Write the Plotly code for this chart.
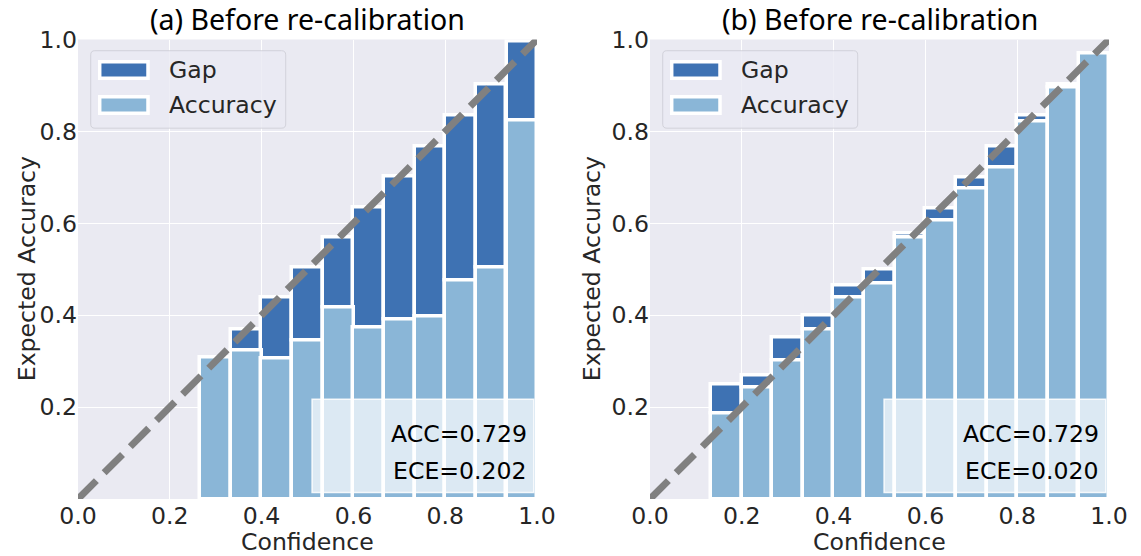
import plotly.graph_objects as go

# ---- data -------------------------------------------------------------
# Reliability diagram, 15 equal-width confidence bins; only non-empty bins listed.
bin_width = 1 / 15

bins_a = [0.300, 0.367, 0.433, 0.500, 0.567, 0.633, 0.700, 0.767, 0.833, 0.900, 0.967]
accuracy_a = [0.309, 0.324, 0.305, 0.345, 0.416, 0.373, 0.391, 0.397, 0.475, 0.504, 0.823]
gap_a = [0.000, 0.045, 0.134, 0.159, 0.153, 0.261, 0.310, 0.371, 0.360, 0.398, 0.172]

bins_b = [0.167, 0.233, 0.300, 0.367, 0.433, 0.500, 0.567, 0.633, 0.700,
          0.767, 0.833, 0.900, 0.967]
accuracy_b = [0.186, 0.242, 0.302, 0.369, 0.438, 0.470, 0.570, 0.606, 0.675,
              0.721, 0.822, 0.895, 0.969]
gap_b = [0.063, 0.026, 0.049, 0.031, 0.027, 0.029, 0.008, 0.027, 0.024,
         0.047, 0.012, 0.007, 0.000]

titles = ["(a) Before re-calibration", "(b) Before re-calibration"]
acc_text = ["ACC=0.729", "ACC=0.729"]
ece_text = ["ECE=0.202", "ECE=0.020"]

tick_vals = [0.0, 0.2, 0.4, 0.6, 0.8, 1.0]
tick_text = ["0.0", "0.2", "0.4", "0.6", "0.8", "1.0"]

# ---- style ------------------------------------------------------------
W, H = 1141, 556
GAP_COLOR = "#3e72b3"
ACC_COLOR = "#8ab6d7"
BG = "#eaeaf2"
TXT = "#262626"
FONT = "DejaVu Sans"
FS = 23.6

panels = [
    dict(bins=bins_a, acc=accuracy_a, gap=gap_a, x0=78, x1=537, xs="x", ys="y",
         ylab_x=27),
    dict(bins=bins_b, acc=accuracy_b, gap=gap_b, x0=650, x1=1109, xs="x2", ys="y2",
         ylab_x=592),
]
Y_TOP, Y_BOT = 39.5, 499.0

fig = go.Figure()
shapes, annotations = [], []

for k, p in enumerate(panels):
    fig.add_trace(go.Bar(
        x=p["bins"], y=p["gap"], base=p["acc"], width=bin_width,
        marker=dict(color=GAP_COLOR, line=dict(color="white", width=3.5)),
        name="Gap", showlegend=False, xaxis=p["xs"], yaxis=p["ys"],
    ))
    fig.add_trace(go.Bar(
        x=p["bins"], y=p["acc"], width=bin_width,
        marker=dict(color=ACC_COLOR, line=dict(color="white", width=3.5)),
        name="Accuracy", showlegend=False, xaxis=p["xs"], yaxis=p["ys"],
    ))
    # perfect-calibration diagonal
    fig.add_trace(go.Scatter(
        x=[0, 1], y=[0, 1], mode="lines",
        line=dict(color="#808080", width=7, dash="26px,11px"),
        showlegend=False, hoverinfo="skip", xaxis=p["xs"], yaxis=p["ys"],
    ))

    xr, yr = p["xs"], p["ys"]

    # metrics box
    shapes.append(dict(type="rect", xref=xr, yref=yr, x0=0.510, x1=0.993,
                       y0=0.014, y1=0.217, layer="above",
                       fillcolor="rgba(255,255,255,0.7)",
                       line=dict(color="rgba(255,255,255,0.85)", width=1.5)))
    annotations.append(dict(xref=xr, yref=yr, x=0.983, y=0.141, text=acc_text[k],
                            showarrow=False, xanchor="right", yanchor="middle",
                            font=dict(family=FONT, size=FS, color="black")))
    annotations.append(dict(xref=xr, yref=yr, x=0.983, y=0.061, text=ece_text[k],
                            showarrow=False, xanchor="right", yanchor="middle",
                            font=dict(family=FONT, size=FS, color="black")))

    # legend frame with rounded corners
    lx0, lx1, ly0, ly1, r = 0.0277, 0.4525, 0.807, 0.9756, 0.009
    path = (f"M{lx0 + r},{ly0} L{lx1 - r},{ly0} Q{lx1},{ly0} {lx1},{ly0 + r} "
            f"L{lx1},{ly1 - r} Q{lx1},{ly1} {lx1 - r},{ly1} L{lx0 + r},{ly1} "
            f"Q{lx0},{ly1} {lx0},{ly1 - r} L{lx0},{ly0 + r} Q{lx0},{ly0} {lx0 + r},{ly0} Z")
    shapes.append(dict(type="path", xref=xr, yref=yr, path=path, layer="above",
                       fillcolor="rgba(234,234,242,0.8)",
                       line=dict(color="rgba(204,204,212,0.8)", width=1)))
    for color, (py0, py1), label in [
        (GAP_COLOR, (0.9156, 0.9517), "Gap"),
        (ACC_COLOR, (0.8394, 0.8755), "Accuracy"),
    ]:
        shapes.append(dict(type="rect", xref=xr, yref=yr, x0=0.0473, x1=0.1525,
                           y0=py0, y1=py1, layer="above", fillcolor=color,
                           line=dict(color="white", width=3.5)))
        annotations.append(dict(xref=xr, yref=yr, x=0.1946, y=(py0 + py1) / 2,
                                text=label, showarrow=False, xanchor="left",
                                yanchor="middle",
                                font=dict(family=FONT, size=FS, color=TXT)))

    # panel title and axis titles
    cx = (p["x0"] + p["x1"]) / 2 / W
    annotations.append(dict(xref="paper", yref="paper", x=cx, y=1 - 19 / H,
                            text=titles[k], showarrow=False, xanchor="center",
                            yanchor="middle",
                            font=dict(family="Noto Sans", size=28.5, color="black")))
    annotations.append(dict(xref="paper", yref="paper", x=cx, y=1 - 542 / H,
                            text="Confidence", showarrow=False, xanchor="center",
                            yanchor="middle",
                            font=dict(family=FONT, size=FS, color=TXT)))
    annotations.append(dict(xref="paper", yref="paper", x=p["ylab_x"] / W,
                            y=1 - (Y_TOP + Y_BOT) / 2 / H, text="Expected Accuracy",
                            showarrow=False, textangle=-90, xanchor="center",
                            yanchor="middle",
                            font=dict(family=FONT, size=FS, color=TXT)))

axis_common = dict(range=[0, 1], showgrid=True, gridcolor="white", gridwidth=1.2,
                   zeroline=False, showline=False, ticks="", fixedrange=True,
                   automargin=False,
                   tickfont=dict(family=FONT, size=FS, color=TXT))
ydom = [1 - Y_BOT / H, 1 - Y_TOP / H]

layout = dict(
    width=W, height=H, margin=dict(l=0, r=0, t=0, b=0, autoexpand=False),
    paper_bgcolor="white", plot_bgcolor=BG, barmode="overlay", bargap=0,
    showlegend=False, shapes=shapes, annotations=annotations,
)
for k, p in enumerate(panels):
    sx = "" if k == 0 else "2"
    layout["xaxis" + sx] = dict(axis_common, domain=[p["x0"] / W, p["x1"] / W],
                                tickvals=tick_vals, ticktext=tick_text,
                                anchor="y" + sx)
    layout["yaxis" + sx] = dict(axis_common, domain=ydom, tickvals=tick_vals[1:],
                                ticktext=tick_text[1:], anchor="x" + sx)

fig.update_layout(**layout)
fig.write_html("out.html")
